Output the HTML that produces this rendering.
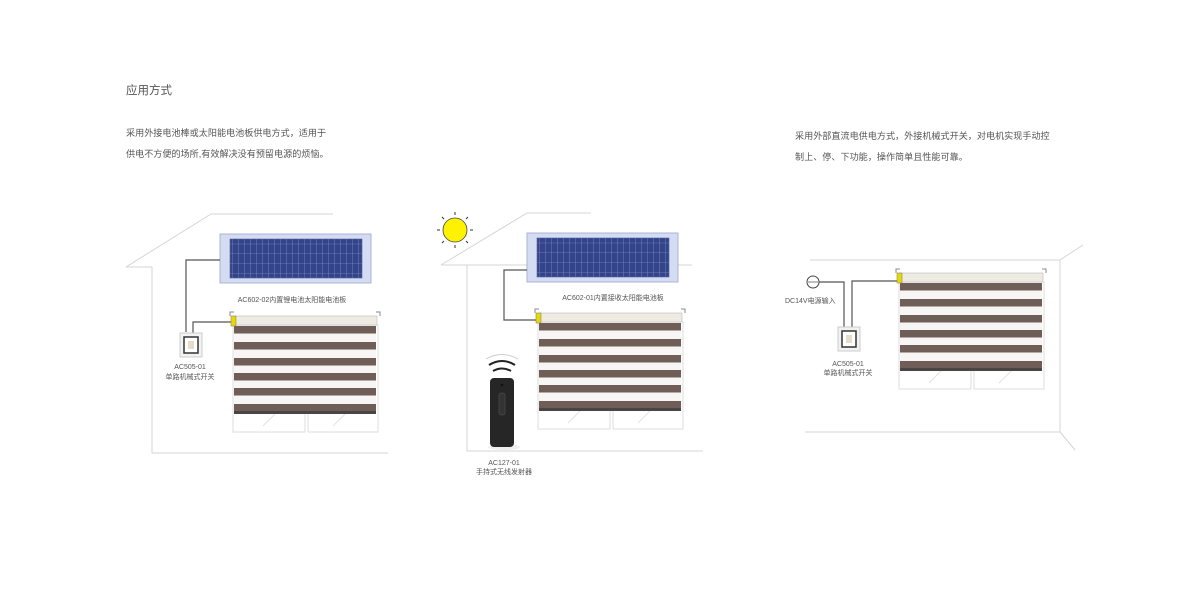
<!DOCTYPE html>
<html><head><meta charset="utf-8"><style>
body{margin:0;background:#fff;width:1200px;height:591px;overflow:hidden}
svg{position:absolute;left:0;top:0}
text{font-family:"Liberation Sans","Noto Sans CJK SC",sans-serif;fill:#555}
</style></head><body>
<svg width="1200" height="591" viewBox="0 0 1200 591">
<defs>
<pattern id="cells" width="6" height="9.75" patternUnits="userSpaceOnUse">
<rect width="6" height="9.75" fill="#34448a"/>
<path d="M0 0H6M0 0V9.75" stroke="#9aa6d2" stroke-width="0.6"/>
</pattern>
<g id="panel">
<rect x="0" y="0" width="151" height="49" fill="#d3dcf2" stroke="#a9b4d6"/>
<rect x="10" y="5" width="132" height="39" fill="url(#cells)" stroke="#55629a" stroke-width="0.6"/>
</g>
<g id="blind">
<rect x="0" y="9" width="72" height="107" fill="none" stroke="#ddd"/>
<rect x="75" y="9" width="70" height="107" fill="none" stroke="#ddd"/>
<path d="M30 110L60 80M100 110L130 80" stroke="#e3e3e3"/>
<rect x="1" y="9" width="142" height="89" fill="#f7f6f4"/>
<g fill="#6f5e58">
<rect x="1" y="10" width="142" height="7.5"/><rect x="1" y="26" width="142" height="7.5"/>
<rect x="1" y="42" width="142" height="7.5"/><rect x="1" y="57" width="142" height="7.5"/>
<rect x="1" y="72" width="142" height="7.5"/><rect x="1" y="88" width="142" height="7.5"/>
</g>
<rect x="1" y="95" width="142" height="3" fill="#4a4545"/>
<rect x="0" y="0" width="144" height="9" fill="#eeebe2" stroke="#bbb" stroke-width="0.6"/>
<rect x="-2" y="0" width="5" height="10" fill="#e6d800" stroke="#777" stroke-width="0.5"/>
<path d="M-3 0V-4H1M147 0V-4H143" stroke="#888" fill="none"/>
</g>
<g id="sw">
<rect x="0" y="0" width="22" height="24" fill="#f2f2f2" stroke="#ccc"/>
<rect x="4" y="4" width="14" height="16" fill="#fff" stroke="#333" stroke-width="1.5"/>
<rect x="8" y="8" width="6" height="8" fill="#e5dccb"/>
</g>
</defs>

<text x="126" y="94" font-size="11.5" fill="#333">应用方式</text>
<text x="126" y="136" font-size="9.1">采用外接电池棒或太阳能电池板供电方式，适用于</text>
<text x="126" y="157" font-size="9.1">供电不方便的场所,有效解决没有预留电源的烦恼。</text>
<text x="795" y="139" font-size="9.1">采用外部直流电供电方式，外接机械式开关，对电机实现手动控</text>
<text x="795" y="160" font-size="9.1">制上、停、下功能，操作简单且性能可靠。</text>

<!-- scene 1 -->
<g stroke="#d6d6d6" fill="none">
<path d="M126 267L211 214H333"/><path d="M152 267V453H388"/><path d="M126 267H152"/>
</g>
<use href="#panel" x="220" y="234"/>
<path d="M220 260H186V332M193 333V322H233" stroke="#555" stroke-width="1.2" fill="none"/>
<use href="#sw" x="180" y="333"/>
<text x="292" y="302" font-size="7" text-anchor="middle">AC602-02内置锂电池太阳能电池板</text>
<use href="#blind" x="233" y="316"/>
<text x="190" y="369" font-size="7" text-anchor="middle">AC505-01</text>
<text x="190" y="379" font-size="7" text-anchor="middle">单路机械式开关</text>

<!-- scene 2 -->
<g stroke="#d6d6d6" fill="none">
<path d="M441 265L527 213H591"/><path d="M441 265H692"/><path d="M467 265V451H703"/>
</g>
<circle cx="455" cy="230" r="12" fill="#fff200" stroke="#444" stroke-width="0.8"/>
<g stroke="#333" stroke-width="1">
<path d="M455 212V215M455 245V248M437 230H440M470 230H473M442 217L444 219M466 241L468 243M468 217L466 219M442 243L444 241"/>
</g>
<use href="#panel" x="527" y="233"/>
<path d="M527 270H504V320H538" stroke="#555" stroke-width="1.2" fill="none"/>
<text x="613" y="300" font-size="7" text-anchor="middle">AC602-01内置接收太阳能电池板</text>
<use href="#blind" x="538" y="313"/>
<g fill="none" stroke="#222" stroke-width="2">
<path d="M493 371Q502 366 511 371"/><path d="M489 365Q502 357 515 365"/>
</g>
<path d="M486 359Q502 350 518 359" stroke="#ccc" fill="none"/>
<ellipse cx="504" cy="447" rx="16" ry="3" fill="#eee"/>
<rect x="490" y="378" width="24" height="69" rx="4" fill="#262626"/>
<rect x="499" y="393" width="6" height="22" rx="2" fill="#333" stroke="#555" stroke-width="0.5"/>
<circle cx="502" cy="385" r="1.3" fill="#111"/>
<text x="504" y="465" font-size="7" text-anchor="middle">AC127-01</text>
<text x="504" y="474" font-size="7" text-anchor="middle">手持式无线发射器</text>

<!-- scene 3 -->
<g stroke="#d6d6d6" fill="none">
<path d="M810 260H1060V432H805"/><path d="M1060 260L1083 245M1060 432L1075 450"/>
</g>
<circle cx="813" cy="282" r="6" fill="#fff" stroke="#444"/>
<path d="M808 282H818" stroke="#444" stroke-width="0.7"/>
<path d="M819 282H844V327M852 327V281H899" stroke="#555" stroke-width="1.2" fill="none"/>
<use href="#sw" x="838" y="327"/>
<use href="#blind" x="899" y="273"/>
<text x="785" y="303" font-size="7">DC14V电源输入</text>
<text x="848" y="366" font-size="7" text-anchor="middle">AC505-01</text>
<text x="848" y="375" font-size="7" text-anchor="middle">单路机械式开关</text>
</svg>
</body></html>
